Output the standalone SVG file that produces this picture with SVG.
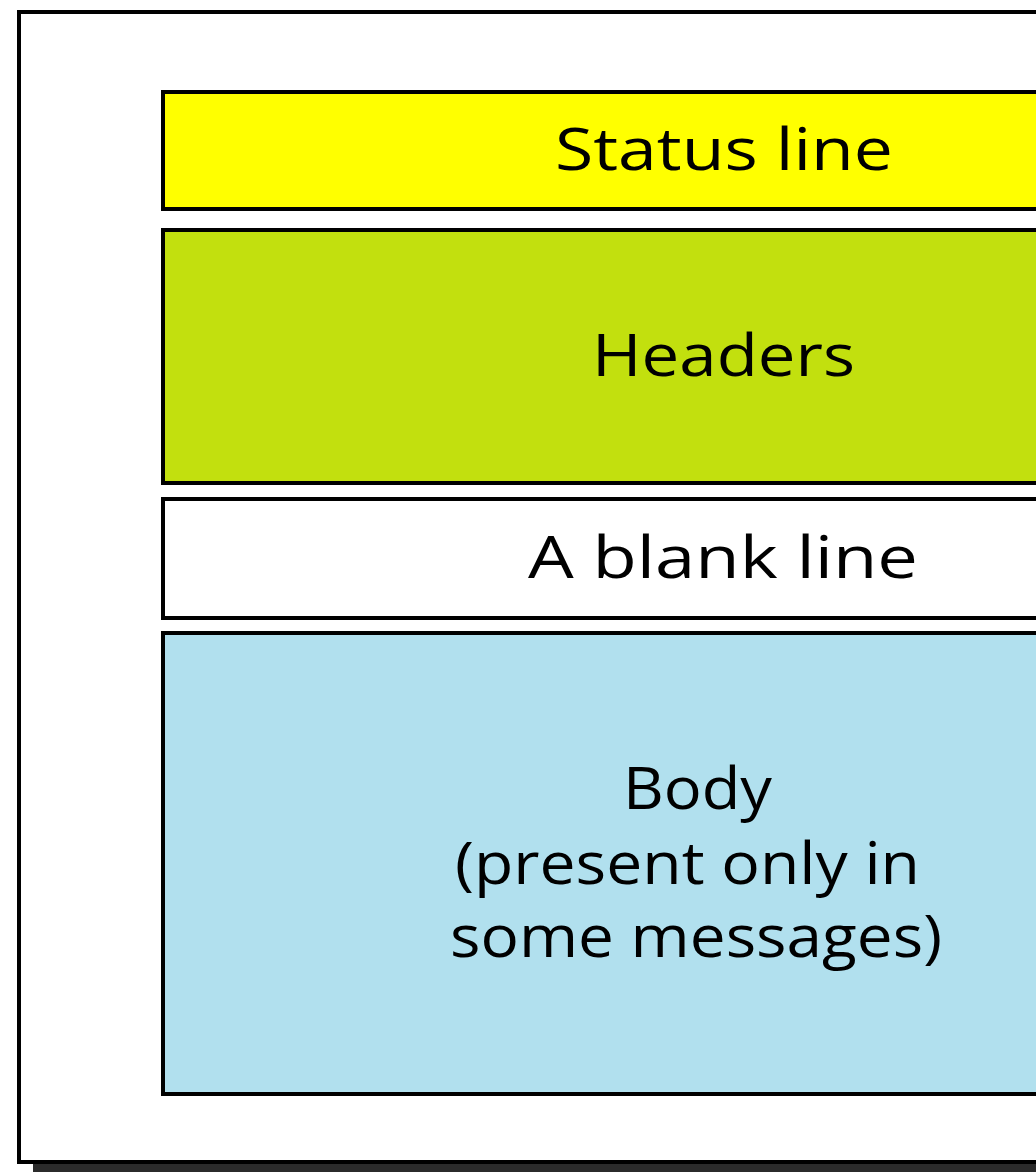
<svg xmlns="http://www.w3.org/2000/svg" width="1036" height="1172" viewBox="0 0 1036 1172">
<style>
.box{stroke:#000;stroke-width:4}
.t{font-family:"Open Sans","Liberation Sans",sans-serif;font-size:59px;fill:#000}
</style>
<rect x="0" y="0" width="1036" height="1172" fill="#fff"/>
<g id="frame">
<rect x="33" y="1164" width="1100" height="20" fill="#2b2b2b"/>
<rect x="19" y="12" width="1100" height="1150" fill="#fff" class="box"/>
</g>
<g id="status">
<rect x="163" y="92" width="1000" height="117" fill="#ffff00" class="box"/>
<text class="t" x="555" y="170" textLength="338" lengthAdjust="spacingAndGlyphs">Status line</text>
</g>
<g id="headers">
<rect x="163" y="230" width="1000" height="253" fill="#c2e00e" class="box"/>
<text class="t" x="592" y="376" textLength="263" lengthAdjust="spacingAndGlyphs">Headers</text>
</g>
<g id="blank">
<rect x="163" y="499" width="1000" height="119" fill="#fff" class="box"/>
<text class="t" x="528" y="578" textLength="390" lengthAdjust="spacingAndGlyphs">A blank line</text>
</g>
<g id="body">
<rect x="163" y="633" width="1000" height="461" fill="#b1e0ee" class="box"/>
<text class="t" x="623" y="809" textLength="149" lengthAdjust="spacingAndGlyphs">Body</text>
<text class="t" x="455" y="884" textLength="465" lengthAdjust="spacingAndGlyphs">(present only in</text>
<text class="t" x="450" y="957" textLength="492" lengthAdjust="spacingAndGlyphs">some messages)</text>
</g>
<g id="connectors"/>
</svg>
